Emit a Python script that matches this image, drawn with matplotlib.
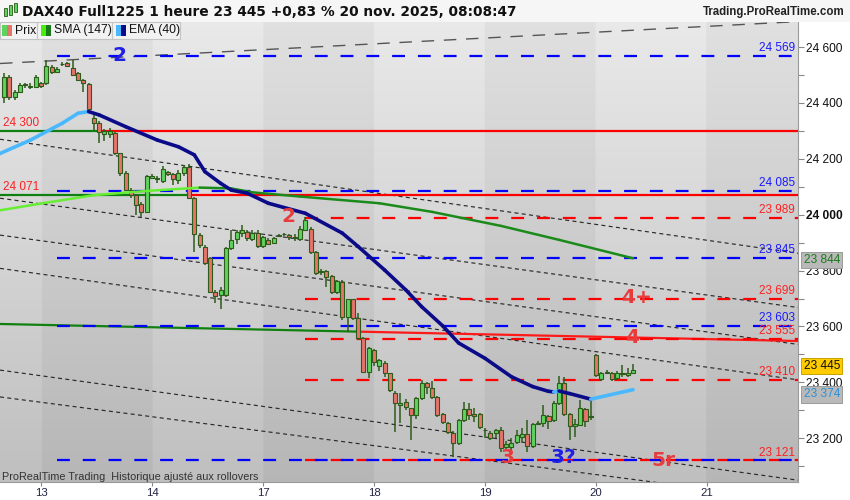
import matplotlib
matplotlib.use('Agg')
import matplotlib.pyplot as plt
import matplotlib.transforms as mtransforms
from matplotlib.patches import Rectangle
import numpy as np

plt.rcParams['font.family'] = ['Liberation Sans', 'DejaVu Sans']

# ---------------- data ----------------
candle_index = list(range(-7, 113))
opens = [24421, 24493, 24420, 24440, 24468, 24458, 24458,
         24470, 24470, 24530, 24512, 24538, 24542, 24525, 24507, 24482, 24468,
         24346, 24328, 24288, 24290, 24292, 24220, 24150, 24090, 24071, 24040, 24010,
         24132, 24130, 24120, 24154, 24146, 24124, 24148, 24172, 24059, 23928, 23886,
         23844, 23725, 23711, 23713, 23880, 23912, 23936, 23939, 23912, 23936,
         23888, 23910, 23900, 23925, 23930, 23927, 23918, 23912, 23945, 23948, 23868,
         23794, 23800, 23780, 23724, 23760, 23633, 23697, 23630, 23558, 23438,
         23516, 23459, 23470, 23432, 23363, 23320, 23331, 23307, 23283, 23343, 23397,
         23379, 23349, 23287, 23254, 23220, 23182, 23265, 23304, 23287, 23287,
         23228, 23220, 23218, 23230, 23168, 23168, 23188, 23206, 23215, 23172, 23251,
         23256, 23280, 23265, 23326, 23397, 23287, 23244, 23248, 23304, 23275,
         23498, 23411, 23433, 23433, 23415, 23430, 23428, 23433]
highs = [24508, 24500, 24447, 24470, 24472, 24470, 24500,
         24475, 24553, 24535, 24530, 24548, 24548, 24553, 24510, 24485, 24470,
         24360, 24335, 24305, 24310, 24295, 24222, 24155, 24095, 24075, 24045, 24142,
         24145, 24138, 24175, 24158, 24150, 24160, 24178, 24180, 24062, 23935, 23890,
         23850, 23730, 23740, 23885, 23945, 23945, 23963, 23945, 23945, 23945,
         23925, 23915, 23922, 23932, 23935, 23932, 23930, 23960, 23993, 23955, 23870,
         23805, 23802, 23785, 23768, 23765, 23700, 23700, 23648, 23562, 23528,
         23520, 23485, 23475, 23435, 23368, 23362, 23340, 23310, 23348, 23408, 23400,
         23406, 23352, 23290, 23258, 23225, 23270, 23331, 23327, 23310, 23292,
         23236, 23225, 23235, 23240, 23190, 23200, 23230, 23237, 23265, 23255, 23262,
         23319, 23285, 23335, 23423, 23420, 23290, 23268, 23337, 23310, 23337,
         23503, 23437, 23443, 23438, 23440, 23462, 23452, 23466]
lows = [24400, 24410, 24412, 24435, 24455, 24448, 24455,
        24455, 24465, 24505, 24508, 24532, 24528, 24495, 24478, 24440, 24370,
        24303, 24256, 24265, 24275, 24215, 24140, 24085, 24060, 23999, 23990, 24005,
        24128, 24112, 24115, 24140, 24106, 24110, 24140, 24055, 23868, 23880, 23820,
        23720, 23684, 23663, 23705, 23875, 23895, 23921, 23905, 23905, 23880,
        23880, 23890, 23895, 23920, 23925, 23910, 23905, 23905, 23940, 23860, 23785,
        23785, 23742, 23715, 23718, 23625, 23581, 23625, 23550, 23435, 23415,
        23460, 23440, 23420, 23365, 23224, 23255, 23300, 23194, 23270, 23338, 23360,
        23340, 23275, 23250, 23215, 23134, 23175, 23260, 23265, 23260, 23235,
        23200, 23195, 23200, 23150, 23160, 23140, 23180, 23183, 23152, 23165, 23248,
        23241, 23235, 23260, 23320, 23280, 23194, 23206, 23245, 23240, 23265,
        23420, 23405, 23430, 23405, 23410, 23420, 23420, 23430]
closes = [24493, 24421, 24440, 24464, 24463, 24460, 24494,
          24460, 24533, 24511, 24522, 24540, 24532, 24500, 24482, 24470, 24378,
          24328, 24296, 24300, 24298, 24220, 24150, 24090, 24070, 24035, 24010, 24138,
          24138, 24128, 24162, 24146, 24128, 24150, 24172, 24059, 23931, 23892, 23826,
          23725, 23709, 23731, 23880, 23910, 23939, 23945, 23916, 23936, 23888,
          23919, 23895, 23918, 23928, 23932, 23919, 23922, 23948, 23981, 23868, 23792,
          23800, 23778, 23724, 23764, 23635, 23697, 23630, 23558, 23438, 23522,
          23474, 23480, 23432, 23373, 23327, 23325, 23313, 23283, 23343, 23397, 23385,
          23349, 23283, 23259, 23224, 23182, 23265, 23304, 23283, 23280, 23239,
          23230, 23200, 23230, 23164, 23180, 23183, 23212, 23215, 23172, 23251, 23256,
          23283, 23263, 23327, 23397, 23287, 23244, 23251, 23307, 23263, 23278,
          23427, 23433, 23438, 23411, 23433, 23433, 23432, 23445]

day_labels = ['13', '14', '17', '18', '19', '20', '21']
day_starts = [0, 21, 42, 63, 84, 105, 126]

sma_idx = [-8, 0, 10, 20, 30, 36, 40, 49, 64, 74, 87, 98, 112]
sma_val = [24015, 24040, 24070, 24085, 24097, 24094, 24080, 24065, 24041, 24010, 23960, 23910, 23844]

ema_idx = [-8, -2, 4, 7, 9, 11, 16, 22, 26, 29, 31, 34, 36, 39, 43, 50, 57, 60, 65, 69, 72, 76,
           79, 84, 89, 93, 96, 97, 98, 100, 104, 112]
ema_val = [24217, 24267, 24327, 24363, 24369, 24357, 24315, 24267, 24243, 24214, 24154, 24112, 24088,
           24077, 24041, 24005, 23934, 23886, 23802, 23731, 23671, 23602, 23541, 23486, 23420, 23385,
           23368, 23366, 23369, 23360, 23340, 23374]

blue_levels = [24569, 24085, 23845, 23603, 23121]
red_levels = [23989, 23699, 23555, 23410, 23121]
solid_levels = [24300, 24071]

channel_left = [24270, 24059, 23927, 23808, 23444, 23348]
channel_right = [23862, 23668, 23536, 23409, 23050, 22976]
upper_left, upper_right = 24541, 24691

trend_left, trend_right = 23609, 23548

last_price = 23445
sma_last = 23844
ema_last = 23374

yticks = [23200, 23400, 23600, 23800, 24000, 24200, 24400, 24600]

# ---------------- figure ----------------
W, H = 850, 500
fig = plt.figure(figsize=(8.5, 5.0), dpi=100, facecolor='white')
ax = fig.add_axes([0, 18 / H, 798 / W, 460 / H])
XL, XR = -7.76, 143.2
YL, YH = 23043.6, 24689.5
ax.set_xlim(XL, XR)
ax.set_ylim(YL, YH)

# background: vertical gradient with alternating day bands
nx, ny = 800, 300
xs = np.linspace(XL, XR, nx)
dark = np.zeros(nx, dtype=bool)
bounds = day_starts + [1e9]
for k in range(len(day_starts)):
    if k % 2 == 0:
        dark |= (xs >= bounds[k]) & (xs < bounds[k + 1])
t = np.linspace(0, 1, ny)[:, None]
img = 0.915 - 0.165 * t - 0.035 * dark[None, :]
img = np.clip(img, 0, 1)
ax.imshow(np.dstack([img, img, img]), extent=[XL, XR, YL, YH], origin='upper',
          aspect='auto', zorder=0, interpolation='bilinear')

# channel (dotted) lines
for pl, pr in zip(channel_left, channel_right):
    ln, = ax.plot([XL, XR], [pl, pr], color='#2a2a2a', lw=0.85, zorder=1.5)
    ln.set_dashes((3.4, 2.8))
ln, = ax.plot([XL, XR], [upper_left, upper_right], color='#555555', lw=1.0, zorder=1.5)
ln.set_dashes((9, 7))

# solid horizontal levels (green part then red part)
green_end = [11.2, 27.6]
for lvl, ge in zip(solid_levels, green_end):
    ax.plot([XL, ge], [lvl, lvl], color='#108010', lw=1.6, zorder=2, solid_capstyle='butt')
    ax.plot([ge, XR], [lvl, lvl], color='#ff0000', lw=1.6, zorder=2, solid_capstyle='butt')

# sloping trendline
tsplit = 59.8
tmid = trend_left + (trend_right - trend_left) * (tsplit - XL) / (XR - XL)
ax.plot([XL, tsplit], [trend_left, tmid], color='#108010', lw=1.6, zorder=2)
ax.plot([tsplit, XR], [tmid, trend_right], color='#ff1a1a', lw=1.6, zorder=2)

# dashed levels
for lvl in blue_levels:
    ln, = ax.plot([3.0, XR], [lvl, lvl], color='#0000ff', lw=1.6, zorder=2.2)
    ln.set_dashes((5.8, 5.8))
for lvl in red_levels:
    ln, = ax.plot([49.9, XR], [lvl, lvl], color='#ff0000', lw=1.6, zorder=2.1)
    ln.set_dashes((5.8, 5.8))

# candles
o = np.array(opens, float); h = np.array(highs, float)
l = np.array(lows, float); c = np.array(closes, float)
xi = np.array(candle_index, float)
up = c >= o
edge = '#2d5b1a'
ax.vlines(xi, l, h, color=edge, lw=1.1, zorder=3)
body_lo = np.minimum(o, c)
body_h = np.maximum(np.abs(c - o), 2.5)
ax.bar(xi[up], body_h[up], bottom=body_lo[up], width=0.76, color='#5ed35e',
       edgecolor=edge, linewidth=0.8, zorder=3.2)
ax.bar(xi[~up], body_h[~up], bottom=body_lo[~up], width=0.76, color='#e7746b',
       edgecolor=edge, linewidth=0.8, zorder=3.2)

# moving averages, coloured by slope
def slope_line(xv, yv, c_up, c_dn, lw, z):
    for k in range(len(xv) - 1):
        col = c_up if yv[k + 1] >= yv[k] else c_dn
        ax.plot(xv[k:k + 2], yv[k:k + 2], color=col, lw=lw, zorder=z,
                solid_capstyle='round')

slope_line(sma_idx, sma_val, '#66ee33', '#1a8a1a', 1.8, 4)
slope_line(ema_idx, ema_val, '#4ab8ff', '#0b0b8a', 2.6, 4.5)

# level labels
lab_kw = dict(fontsize=8.5, ha='right', va='bottom', zorder=6)
def fmt(v):
    return f'{v:,}'.replace(',', ' ')
for lvl in blue_levels[:-1]:
    ax.text(XR - 0.6, lvl + 6, fmt(lvl), color='#1a1aff', **lab_kw)
for lvl in red_levels:
    ax.text(XR - 0.6, lvl + 6, fmt(lvl), color='#ff2020', **lab_kw)
for lvl in solid_levels:
    ax.text(XL + 0.5, lvl + 8, fmt(lvl), color='#ff2020', fontsize=8.5, ha='left',
            va='bottom', zorder=6)

# wave annotations
ann = dict(fontsize=14.5, fontweight='bold', ha='center', va='center', zorder=7,
           family=['DejaVu Sans'])
ax.text(14.9, 24571, '2', color='#1f1fe6', **ann)
ax.text(46.7, 23995, '2', color='#e83c3c', **ann)
ax.text(112.7, 23702, '4+', color='#e83c3c', **ann)
ax.text(111.8, 23559, '4', color='#e83c3c', **ann)
ax.text(88.2, 23130, '3', color='#e83c3c', **ann)
ax.text(98.8, 23130, '3?', color='#1f1fe6', **ann)
ax.text(117.7, 23122, '5r', color='#e83c3c', **ann)

ax.text(XL + 0.3, 23062, 'ProRealTime Trading  Historique ajusté aux rollovers',
        fontsize=7.8, color='#333333', ha='left', va='center', zorder=7)

# axes styling
for s in ['top', 'left']:
    ax.spines[s].set_visible(False)
for s in ['right', 'bottom']:
    ax.spines[s].set_color('#9a9a9a')
    ax.spines[s].set_linewidth(0.8)
ax.yaxis.tick_right()
ax.set_yticks(yticks)
ax.set_yticklabels([fmt(v) for v in yticks])
ax.set_yticks(list(range(23100, 24700, 100)), minor=True)
ax.tick_params(axis='y', which='both', colors='#888888', labelcolor='#111111',
               labelsize=8.6, length=4, width=0.8, pad=2)
for lbl in ax.get_yticklabels():
    if lbl.get_text() == '24 000':
        lbl.set_fontweight('bold')
ax.set_xticks(day_starts)
ax.set_xticklabels(day_labels)
ax.tick_params(axis='x', colors='#888888', labelcolor='#222244', labelsize=8.2,
               length=3, width=0.8, pad=1)

# right-axis badges
btr = mtransforms.blended_transform_factory(ax.transAxes, ax.transData)
def badge(val, fc, tc, ec, dy):
    tr = mtransforms.offset_copy(btr, fig=fig, y=dy, units='points')
    ax.text(1.007, val, fmt(val), transform=tr, fontsize=8.6, color=tc, ha='left',
            va='center', zorder=8, clip_on=False,
            bbox=dict(boxstyle='square,pad=0.18', fc=fc, ec=ec, lw=0.7))
badge(sma_last, '#b9b9b9', '#1c7a1c', '#9a9a9a', -1.0)
badge(last_price, '#ffcc00', '#111111', '#c8a000', 2.6)
badge(ema_last, '#b9b9b9', '#2a92d8', '#9a9a9a', -3.4)

# header
fig.patches.append(Rectangle((0, 1 - 22 / H), 1, 22 / H, transform=fig.transFigure,
                             facecolor='#f6f6f6', edgecolor='none', zorder=0))
fig.text(22 / W, 1 - 12 / H, 'DAX40 Full1225 1 heure 23 445 +0,83 % 20 nov. 2025, 08:08:47',
         fontsize=9.9, fontweight='bold', color='#111111', ha='left', va='center',
         family=['DejaVu Sans'])
fig.text(845 / W, 1 - 12 / H, 'Trading.ProRealTime.com', fontsize=8.3, fontweight='bold',
         color='#222222', ha='right', va='center')
# tiny candle icon
for (x0, y0, hh, col) in [(4, 8, 8, '#5ed35e'), (9, 5, 10, '#5ed35e'), (14, 3, 9, '#5ed35e')]:
    fig.patches.append(Rectangle((x0 / W, 1 - (y0 + hh) / H), 3 / W, hh / H,
                                 transform=fig.transFigure, facecolor=col,
                                 edgecolor='#2d5b1a', lw=0.6, zorder=2))

# legend boxes
boxes = [(0, 37, 'Prix', '#5ed35e', '#e7746b'),
         (37, 112, 'SMA (147)', '#44ee11', '#1a7a1a'),
         (112, 180, 'EMA (40)', '#4ab8ff', '#0b0b8a')]
for x0, x1, txt, c1, c2 in boxes:
    sx = x0 + 2 if x0 == 0 else x0 + 4
    fig.patches.append(Rectangle((x0 / W, 1 - 39 / H), (x1 - x0) / W, 17 / H,
                                 transform=fig.transFigure, facecolor='#f2f2f2',
                                 edgecolor='#c4c4c4', lw=0.8, zorder=5))
    fig.patches.append(Rectangle((sx / W, 1 - 36 / H), 5 / W, 11 / H,
                                 transform=fig.transFigure, facecolor=c1,
                                 edgecolor='none', zorder=6))
    fig.patches.append(Rectangle(((sx + 5) / W, 1 - 36 / H), 5 / W, 11 / H,
                                 transform=fig.transFigure, facecolor=c2,
                                 edgecolor='none', zorder=6))
    fig.text((sx + 13) / W, 1 - 30.5 / H, txt, fontsize=8.8, color='#111111',
             ha='left', va='center', zorder=7)

fig.savefig('out.png', dpi=100, facecolor='white')
